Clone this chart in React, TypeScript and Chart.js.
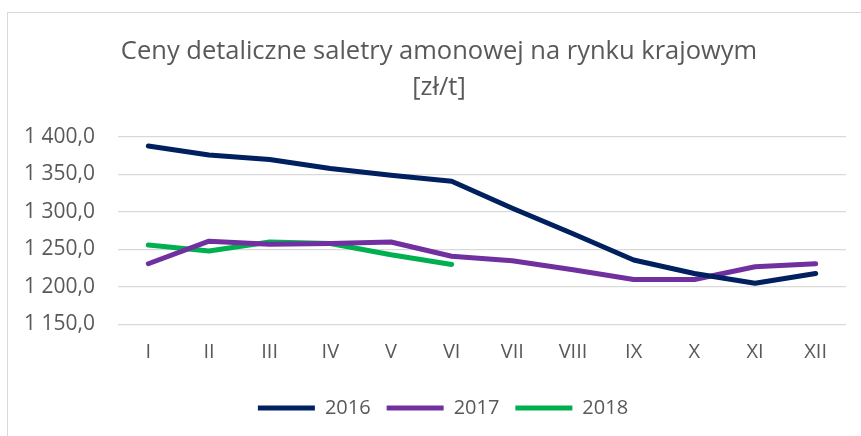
import React, { useEffect, useRef } from "react";
import { Chart, registerables } from "chart.js";

Chart.register(...registerables);

const categories = ["I", "II", "III", "IV", "V", "VI", "VII", "VIII", "IX", "X", "XI", "XII"];
const values2016 = [1388, 1376, 1370, 1358, 1349, 1341, 1305, 1271, 1236, 1218, 1205, 1218];
const values2017 = [1231, 1261, 1257, 1258, 1260, 1241, 1235, 1223, 1210, 1210, 1227, 1231];
const values2018 = [1256, 1248, 1260, 1258, 1243, 1230];
const seriesNames = ["2016", "2017", "2018"];
const titleLines = ["Ceny detaliczne saletry amonowej na rynku krajowym", "[zł/t]"];
const yMin = 1150;
const yMax = 1400;
const yStep = 50;

const FONT = "'Open Sans', 'Noto Sans', sans-serif";
const TEXT = "#595959";

function formatPl(v: number): string {
  const fixed = v.toFixed(1).replace(".", ",");
  const [intPart, dec] = fixed.split(",");
  const withSpaces = intPart.replace(/\B(?=(\d{3})+(?!\d))/g, " ");
  return withSpaces + "," + dec;
}

const shiftBoxes = {
  id: "shiftBoxes",
  afterLayout(chart: any) {
    const t = chart.titleBlock;
    if (t) {
      t.left += 16;
      t.right += 16;
    }
    const l = chart.legend;
    if (l) {
      l.left += 20;
      l.right += 20;
      l.top += 10.5;
      l.bottom += 10.5;
    }
  },
};

export default function App() {
  const ref = useRef<HTMLCanvasElement | null>(null);
  useEffect(() => {
    document.body.style.margin = "0";
    const canvas = ref.current!;
    const colors = ["#002060", "#7030A0", "#00B050"];
    const all = [values2016, values2017, values2018];
    const chart = new Chart(canvas, {
      type: "line",
      data: {
        labels: categories,
        datasets: all.map((d, i) => ({
          label: seriesNames[i],
          data: d,
          borderColor: colors[i],
          backgroundColor: colors[i],
          borderWidth: 5,
          pointRadius: 0,
          pointHoverRadius: 0,
          pointStyle: "line",
          tension: 0,
          borderCapStyle: "round",
          borderJoinStyle: "round",
          fill: false,
        })),
      },
      options: {
        animation: false,
        responsive: false,
        maintainAspectRatio: false,
        layout: { padding: { left: 0, right: 15, top: 0, bottom: 18.5 } },
        plugins: {
          title: {
            display: true,
            text: titleLines,
            color: TEXT,
            font: { family: FONT, size: 25.5, weight: "normal", lineHeight: 1.41 },
            padding: { top: 34, bottom: 31 },
          },
          legend: {
            display: true,
            position: "bottom",
            labels: {
              usePointStyle: true,
              pointStyle: "line",
              pointStyleWidth: 57,
              color: TEXT,
              font: { family: FONT, size: 20 },
              padding: 16,
            },
          },
          tooltip: { enabled: false },
        },
        scales: {
          x: {
            offset: true,
            grid: { display: false },
            border: { display: false },
            ticks: { color: TEXT, font: { family: FONT, size: 20 }, padding: 7.5, maxRotation: 0, autoSkip: false },
          },
          y: {
            min: yMin,
            max: yMax,
            border: { display: false },
            grid: { color: "#d9d9d9", lineWidth: 1.3, drawTicks: false },
            ticks: {
              stepSize: yStep,
              color: TEXT,
              font: { family: FONT, size: 21 },
              padding: 23,
              callback: (v: any) => formatPl(Number(v)),
            },
            afterFit: (s: any) => {
              s.width = 118;
            },
          },
        },
      } as any,
      plugins: [shiftBoxes],
    });
    return () => chart.destroy();
  }, []);
  return (
    <div style={{ position: "relative", width: 861, height: 436, overflow: "hidden", background: "#fff" }}>
      <div
        style={{
          position: "absolute",
          left: 7,
          top: 12,
          width: 900,
          height: 500,
          border: "1.5px solid #d9d9d9",
          boxSizing: "border-box",
        }}
      />
      <canvas ref={ref} width={861} height={436} style={{ position: "absolute", left: 0, top: 0, display: "block" }} />
    </div>
  );
}
